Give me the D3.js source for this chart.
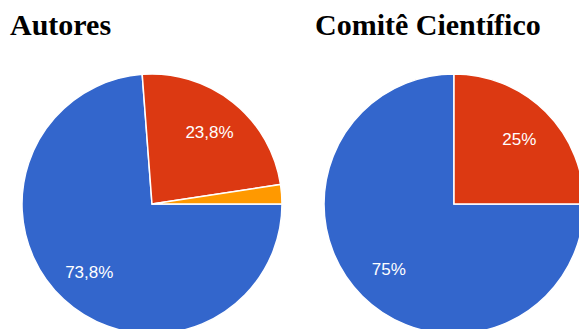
<!DOCTYPE html>
<html>
<head>
<meta charset="utf-8">
<script src="https://cdn.jsdelivr.net/npm/d3@7"></script>
<style>
body { margin:0; background:#fff; }
.title { font-family:"Liberation Serif", "Times New Roman", serif; font-weight:bold; font-size:30px; fill:#000; }
.lbl { font-family:Arial, "Liberation Sans", sans-serif; font-size:17px; fill:#fff; }
</style>
</head>
<body>
<div class="pies"></div>
<script>
var categories = ["Azul","Vermelho","Laranja"];
var autores = [73.8, 23.8, 2.4];
var comite = [75, 25, 0];
var titles = ["Autores","Comitê Científico"];
var colors = ["#3366cc","#dc3912","#ff9900"];

var W = 579, H = 329, R = 130;
var centers = [[152,204],[454,204]];
var titleX = [10,315];

var svg = d3.select(".pies").append("svg")
	.attr("width",W)
	.attr("height",H);

var color = d3.scaleOrdinal().domain(categories).range(colors);

// google style: first slice starts at 3 o'clock
var pie = d3.pie()
	.sort(null)
	.value(function(d){ return d.v; })
	.startAngle(Math.PI/2)
	.endAngle(Math.PI/2 + 2*Math.PI);

var arc = d3.arc().innerRadius(0).outerRadius(R);
var lblArc = d3.arc().innerRadius(R*0.42).outerRadius(R*1.0);

[autores, comite].forEach(function(vals,k){
	var data = vals.map(function(v,i){ return {c:categories[i], v:v}; });

	svg.append("text")
		.attr("class","title")
		.attr("x",titleX[k])
		.attr("y",35)
		.text(titles[k]);

	var g = svg.append("g")
		.attr("transform","translate(" + centers[k][0] + "," + centers[k][1] + ")");

	var slices = pie(data).filter(function(d){ return d.data.v > 0; });

	g.selectAll("path")
		.data(slices)
		.enter()
		.append("path")
		.attr("d",arc)
		.attr("fill",function(d){ return color(d.data.c); })
		.attr("stroke","#fff")
		.attr("stroke-width",1.5);

	g.selectAll("text")
		.data(slices.filter(function(d){ return d.data.v > 5; }))
		.enter()
		.append("text")
		.attr("class","lbl")
		.attr("text-anchor","middle")
		.attr("dy","0.35em")
		.attr("transform",function(d){ return "translate(" + lblArc.centroid(d) + ")"; })
		.text(function(d){ return String(d.data.v).replace(".",",") + "%"; });
});
</script>
</body>
</html>
